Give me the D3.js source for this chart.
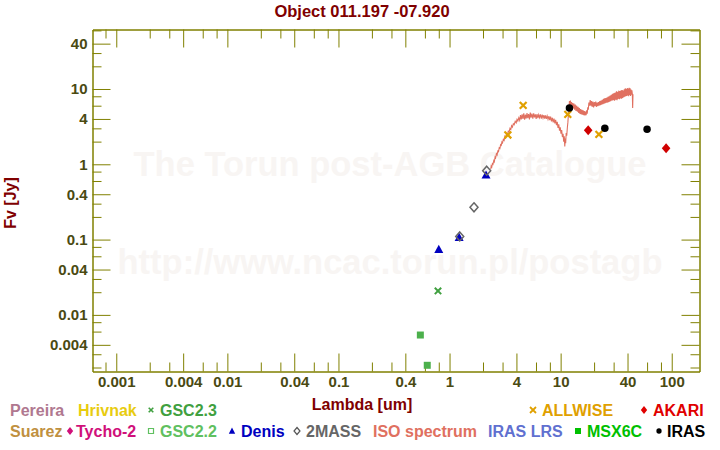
<!DOCTYPE html>
<html><head><meta charset="utf-8">
<script src="https://cdn.jsdelivr.net/npm/d3@7"></script>
<style>body{margin:0;background:#fff}svg{display:block}</style>
</head><body>
<script>
// ---------- data (wavelength um, flux Jy) ----------
const gsc23 = [[0.787, 0.0208]];
const gsc22 = [[0.546, 0.0054], [0.63, 0.00214]];
const denis = [[0.80, 0.0743], [1.22, 0.107], [2.13, 0.72]];
const twomass = [[1.235, 0.11], [1.66, 0.268], [2.16, 0.822]];
const allwise = [[3.35, 2.45], [4.6, 6.07], [11.6, 4.61], [22.1, 2.50]];
const akari = [[17.7, 2.83], [89, 1.63]];
const iras = [[12, 5.6], [25, 3.01], [60, 2.92]];
const isoSpectrum = [
[2.35,0.86],[2.37,0.95],[2.40,0.92],[2.43,1.02],[2.46,1.00],[2.50,1.12],[2.53,1.08],[2.57,1.25],[2.60,1.22],[2.64,1.38],[2.68,1.33],[2.72,1.50],[2.76,1.47],[2.80,1.65],[2.84,1.62],[2.88,1.82],[2.92,1.78],[2.96,1.98],[3.00,1.92],[3.05,2.15],[3.10,2.08],[3.15,2.35],[3.20,2.25],[3.26,2.55],[3.32,2.48],[3.38,2.75],[3.44,2.70],[3.50,3.00],[3.56,2.90],[3.62,3.25],[3.68,3.12],[3.75,3.45],[3.82,3.35],[3.90,3.72],[3.98,3.55],[4.05,3.95],[4.12,3.75],[4.20,4.15],
[4.28,3.85],[4.35,4.50],[4.42,3.95],[4.50,4.60],[4.58,4.00],[4.66,4.75],[4.74,3.90],[4.82,4.55],[4.90,4.05],[4.98,4.80],[5.06,4.10],[5.15,4.65],[5.24,3.95],[5.33,4.85],[5.42,4.15],[5.52,4.70],[5.62,4.05],[5.72,4.75],[5.82,4.20],[5.92,4.60],[6.02,4.00],[6.13,4.65],[6.24,4.10],[6.35,4.55],[6.46,4.15],[6.58,4.60],[6.70,4.05],[6.82,4.55],[6.94,4.10],[7.06,4.50],[7.18,4.05],[7.30,4.45],[7.43,4.00],[7.56,4.40],[7.70,3.95],[7.84,4.35],[7.98,3.85],[8.12,4.30],[8.27,3.70],[8.42,4.15],[8.57,3.60],
[8.72,4.05],[8.87,3.50],[9.02,3.90],[9.17,3.30],[9.32,3.65],[9.47,3.05],[9.62,3.40],[9.77,2.80],[9.92,3.10],[10.07,2.55],[10.22,2.85],[10.37,2.30],[10.52,2.55],[10.65,2.00],[10.78,2.35],[10.90,1.72],[11.00,2.20],[11.10,1.90],[11.22,2.60],[11.35,2.40],[11.50,3.10],[11.62,3.60],[11.75,4.60],[11.88,5.60],
[12.00,6.90],[12.12,5.90],[12.25,7.00],[12.40,5.80],[12.55,6.70],[12.70,5.60],[12.85,6.50],[13.00,5.50],[13.18,6.40],[13.36,5.30],[13.55,6.20],[13.75,5.10],[13.95,6.00],[14.15,5.00],[14.35,5.80],[14.55,4.80],[14.75,5.60],[14.95,4.65],[15.15,5.40],[15.35,4.60],[15.55,5.30],[15.75,4.55],[15.95,5.20],[16.15,4.50],[16.35,5.10],[16.55,4.45],[16.75,5.00],[16.95,4.50],[17.15,5.20],[17.35,4.70],[17.55,5.70],[17.75,5.30],[17.95,6.60],[18.20,6.00],[18.45,7.10],
[18.70,6.00],[18.95,6.90],[19.20,5.80],[19.50,6.80],[19.80,5.70],[20.10,6.70],[20.40,5.90],[20.70,6.80],[21.00,5.80],[21.30,6.60],[21.60,5.90],[21.90,6.70],[22.20,6.00],[22.50,6.90],[22.80,6.10],[23.10,7.00],[23.40,6.20],[23.70,7.20],[24.00,6.30],[24.30,7.40],[24.60,6.40],[24.90,7.50],[25.20,6.50],[25.50,7.60],[25.80,6.60],[26.10,7.70],[26.40,6.60],[26.70,7.90],[27.00,6.70],[27.30,8.00],[27.60,6.80],[27.90,8.20],[28.20,6.90],[28.60,8.40],[29.00,7.00],[29.40,8.60],[29.80,7.10],[30.20,8.80],[30.60,7.00],[31.00,9.00],[31.40,7.20],[31.80,9.30],[32.20,7.10],[32.60,9.20],[33.00,7.40],[33.40,9.50],[33.80,7.30],[34.20,9.40],[34.60,7.50],[35.00,9.60],[35.40,7.40],[35.80,9.70],[36.20,7.60],[36.60,9.50],[37.00,7.80],[37.40,9.90],[37.80,7.90],[38.20,10.2],[38.60,8.00],[39.00,10.0],[39.40,8.10],[39.80,10.3],[40.20,8.20],[40.60,10.1],[41.00,8.00],[41.40,10.4],[41.80,8.30],[42.20,10.2],[42.60,8.10],[43.00,9.80],[43.40,8.40],[43.80,9.60],[44.20,8.60],[44.50,5.60],[44.80,8.50]
];
const xTickLabels = ["0.001","0.004","0.01","0.04","0.1","0.4","1","4","10","40","100"];
const yTickLabels = ["0.004","0.01","0.04","0.1","0.4","1","4","10","40"];
const minorMultipliers = [2, 3, 6, 8];
const legendRow1 = ["Pereira", "Hrivnak", "GSC2.3", "ALLWISE", "AKARI"];
const legendRow2 = ["Suarez", "Tycho-2", "GSC2.2", "Denis", "2MASS", "ISO spectrum", "IRAS LRS", "MSX6C", "IRAS"];

// ---------- layout ----------
const W = 720, H = 450;
const L = 92.5, R = 699.5, T = 29.5, B = 371.5;
const AXIS = "#808000", TICKTXT = "#4a4a12", DARKRED = "#800000";
const FONT = "'Liberation Sans', Arial, Helvetica, sans-serif";

const svg = d3.select("body").append("svg").attr("width", W).attr("height", H)
  .style("font-family", FONT);

const x = d3.scaleLog().domain([Math.pow(10, -3.214), Math.pow(10, 2.250)]).range([L, R]);
const y = d3.scaleLog().domain([Math.pow(10, -2.752), Math.pow(10, 1.790)]).range([B, T]);

// watermark
const wm = svg.append("g").attr("fill", "#f8f5f3").attr("font-weight", "bold")
  .attr("font-size", "34.5px").attr("text-anchor", "middle");
wm.append("text").attr("x", 390).attr("y", 176).text("The Torun post-AGB Catalogue");
wm.append("text").attr("x", 390).attr("y", 274).text("http://www.ncac.torun.pl/postagb");

// ticks
function minorTicks(scale) {
  const [a, b] = scale.domain(); const out = [];
  for (let k = -5; k <= 4; k++) for (const m of minorMultipliers) {
    const v = m * Math.pow(10, k); if (v >= a && v <= b) out.push(v);
  }
  return out;
}
const xMajor = xTickLabels.map(Number), yMajor = yTickLabels.map(Number);
const fmt = d => String(d);

function styleAxis(g, labels) {
  g.select(".domain").attr("stroke", AXIS).attr("stroke-width", 1);
  g.selectAll(".tick line").attr("stroke", AXIS).attr("stroke-width", 1);
  g.selectAll(".tick text").attr("fill", TICKTXT).attr("font-weight", "bold")
    .attr("font-size", "15px").attr("font-family", FONT);
  if (!labels) g.selectAll(".tick text").remove();
}
// bottom
svg.append("g").attr("transform", `translate(0,${B})`)
  .call(d3.axisBottom(x).tickValues(minorTicks(x)).tickSizeInner(-9).tickSizeOuter(0).tickFormat(""))
  .call(g => styleAxis(g, false));
svg.append("g").attr("transform", `translate(0,${B})`)
  .call(d3.axisBottom(x).tickValues(xMajor).tickSizeInner(-18).tickSizeOuter(0).tickPadding(5).tickFormat(fmt))
  .call(g => styleAxis(g, true));
// top
svg.append("g").attr("transform", `translate(0,${T})`)
  .call(d3.axisTop(x).tickValues(minorTicks(x)).tickSizeInner(-9).tickSizeOuter(0).tickFormat(""))
  .call(g => styleAxis(g, false));
svg.append("g").attr("transform", `translate(0,${T})`)
  .call(d3.axisTop(x).tickValues(xMajor).tickSizeInner(-18).tickSizeOuter(0).tickFormat(""))
  .call(g => styleAxis(g, false));
// left
svg.append("g").attr("transform", `translate(${L},0)`)
  .call(d3.axisLeft(y).tickValues(minorTicks(y)).tickSizeInner(-9).tickSizeOuter(0).tickFormat(""))
  .call(g => styleAxis(g, false));
svg.append("g").attr("transform", `translate(${L},0)`)
  .call(d3.axisLeft(y).tickValues(yMajor).tickSizeInner(-18).tickSizeOuter(0).tickPadding(5).tickFormat(fmt))
  .call(g => styleAxis(g, true));
// right
svg.append("g").attr("transform", `translate(${R},0)`)
  .call(d3.axisRight(y).tickValues(minorTicks(y)).tickSizeInner(-9).tickSizeOuter(0).tickFormat(""))
  .call(g => styleAxis(g, false));
svg.append("g").attr("transform", `translate(${R},0)`)
  .call(d3.axisRight(y).tickValues(yMajor).tickSizeInner(-18).tickSizeOuter(0).tickFormat(""))
  .call(g => styleAxis(g, false));

// title and axis labels
svg.append("text").attr("x", 362).attr("y", 17).attr("text-anchor", "middle")
  .attr("font-weight", "bold").attr("font-size", "16.5px").attr("fill", DARKRED)
  .text("Object 011.197 -07.920");
svg.append("text").attr("x", 362).attr("y", 410).attr("text-anchor", "middle")
  .attr("font-weight", "bold").attr("font-size", "16px").attr("fill", DARKRED)
  .text("Lambda [um]");
svg.append("text").attr("transform", "translate(16,203) rotate(-90)").attr("text-anchor", "middle")
  .attr("font-weight", "bold").attr("font-size", "16px").attr("fill", DARKRED)
  .text("Fv [Jy]");

// marker helpers
function crossPath(s) { return `M${-s},${-s}L${s},${s}M${-s},${s}L${s},${-s}`; }
function diamondPath(w, h) { return `M0,${-h}L${w},0L0,${h}L${-w},0Z`; }
function triPath(w, h) { return `M0,${-h}L${w},${h * 0.8}L${-w},${h * 0.8}Z`; }
const plot = svg.append("g");
function pts(data) { return plot.append("g").selectAll("path").data(data).join("path")
  .attr("transform", d => `translate(${x(d[0])},${y(d[1])})`); }

// ISO spectrum
plot.append("path").datum(isoSpectrum)
  .attr("d", d3.line().x(d => x(d[0])).y(d => y(d[1])))
  .attr("fill", "none").attr("stroke", "#e07060").attr("stroke-width", 1.1);

pts(gsc22).attr("d", "M-3.5,-3.5H3.5V3.5H-3.5Z").attr("fill", "#4cb04c");
pts(gsc23).attr("d", crossPath(3.2)).attr("stroke", "#40a040").attr("stroke-width", 2).attr("fill", "none");
pts(denis).attr("d", triPath(4.5, 4.5)).attr("fill", "#0000c0");
pts(twomass).attr("d", diamondPath(4, 4.5)).attr("fill", "none").attr("stroke", "#666666").attr("stroke-width", 1.5);
pts(allwise).attr("d", crossPath(3.4)).attr("stroke", "#e0a000").attr("stroke-width", 2.2).attr("fill", "none");
pts(akari).attr("d", diamondPath(4.3, 5)).attr("fill", "#d00000");
pts(iras).attr("d", d3.symbol(d3.symbolCircle, 44)()).attr("fill", "#000000");

// legend
const legendColors1 = ["#b07890", "#e8cc10", "#40a040", "#e0a000", "#e00000"];
const legendColors2 = ["#c09040", "#d0107a", "#60c060", "#0000c0", "#666666", "#e07060", "#6070d0", "#00c000", "#000000"];
const legendX1 = [10, 78, 160, 542, 653];
const legendX2 = [10, 76, 160, 241, 306, 373, 488, 587, 667];
const lg = svg.append("g").attr("font-weight", "bold").attr("font-size", "16px");
legendRow1.forEach((t, i) => lg.append("text").attr("x", legendX1[i]).attr("y", 416).attr("fill", legendColors1[i]).text(t));
legendRow2.forEach((t, i) => lg.append("text").attr("x", legendX2[i]).attr("y", 437).attr("fill", legendColors2[i]).text(t));
// legend markers
const lm = svg.append("g");
lm.append("path").attr("transform", "translate(151,410)").attr("d", crossPath(2.3)).attr("stroke", "#40a040").attr("stroke-width", 1.6);
lm.append("path").attr("transform", "translate(533,410)").attr("d", crossPath(3)).attr("stroke", "#e0a000").attr("stroke-width", 1.8);
lm.append("path").attr("transform", "translate(644,410)").attr("d", diamondPath(3.2, 4)).attr("fill", "#e00000");
lm.append("path").attr("transform", "translate(70,431)").attr("d", diamondPath(3.2, 4)).attr("fill", "#d0107a");
lm.append("path").attr("transform", "translate(151,431)").attr("d", "M-2.5,-2.5H2.5V2.5H-2.5Z").attr("fill", "none").attr("stroke", "#60c060").attr("stroke-width", 1.2);
lm.append("path").attr("transform", "translate(232,431)").attr("d", triPath(3.2, 3.5)).attr("fill", "#0000c0");
lm.append("path").attr("transform", "translate(297,431)").attr("d", diamondPath(3, 3.5)).attr("fill", "none").attr("stroke", "#555").attr("stroke-width", 1.2);
lm.append("path").attr("transform", "translate(578,431)").attr("d", "M-3,-3H3V3H-3Z").attr("fill", "#00c000");
lm.append("path").attr("transform", "translate(659,431)").attr("d", d3.symbol(d3.symbolCircle, 22)()).attr("fill", "#000");
</script>
</body></html>
